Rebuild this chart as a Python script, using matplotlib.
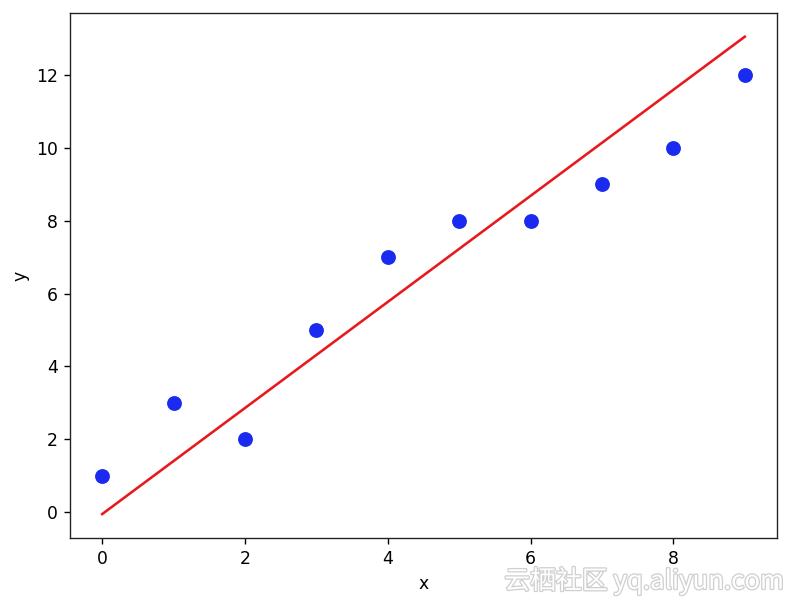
import matplotlib
matplotlib.use("Agg")
import matplotlib.pyplot as plt
import matplotlib.patheffects as pe
import numpy as np

x_data = [0, 1, 2, 3, 4, 5, 6, 7, 8, 9]
y_data = [1, 3, 2, 5, 7, 8, 8, 9, 10, 12]
fit_w = 1.455
fit_b = -0.05

fig = plt.figure(figsize=(796 / 124, 612 / 124), dpi=124)
ax = fig.add_axes([0.088, 0.121, 0.888, 0.858])

ax.scatter(x_data, y_data, color='#1a2af0', s=58, zorder=3)
xs = np.array([x_data[0], x_data[-1]])
ax.plot(xs, fit_w * xs + fit_b, color='#e8191c', zorder=2)
ax.set_xlabel('x')
ax.set_ylabel('y')
for s in ax.spines.values():
    s.set_color('#222222')

fig.text(0.985, 0.028, '云栖社区 yq.aliyun.com', ha='right', va='bottom',
         fontsize=15, color='white',
         family=['Noto Sans CJK SC', 'DejaVu Sans'],
         path_effects=[pe.withStroke(linewidth=1.5, foreground='#d0d0d0')])

fig.savefig('out.png', dpi=124)
